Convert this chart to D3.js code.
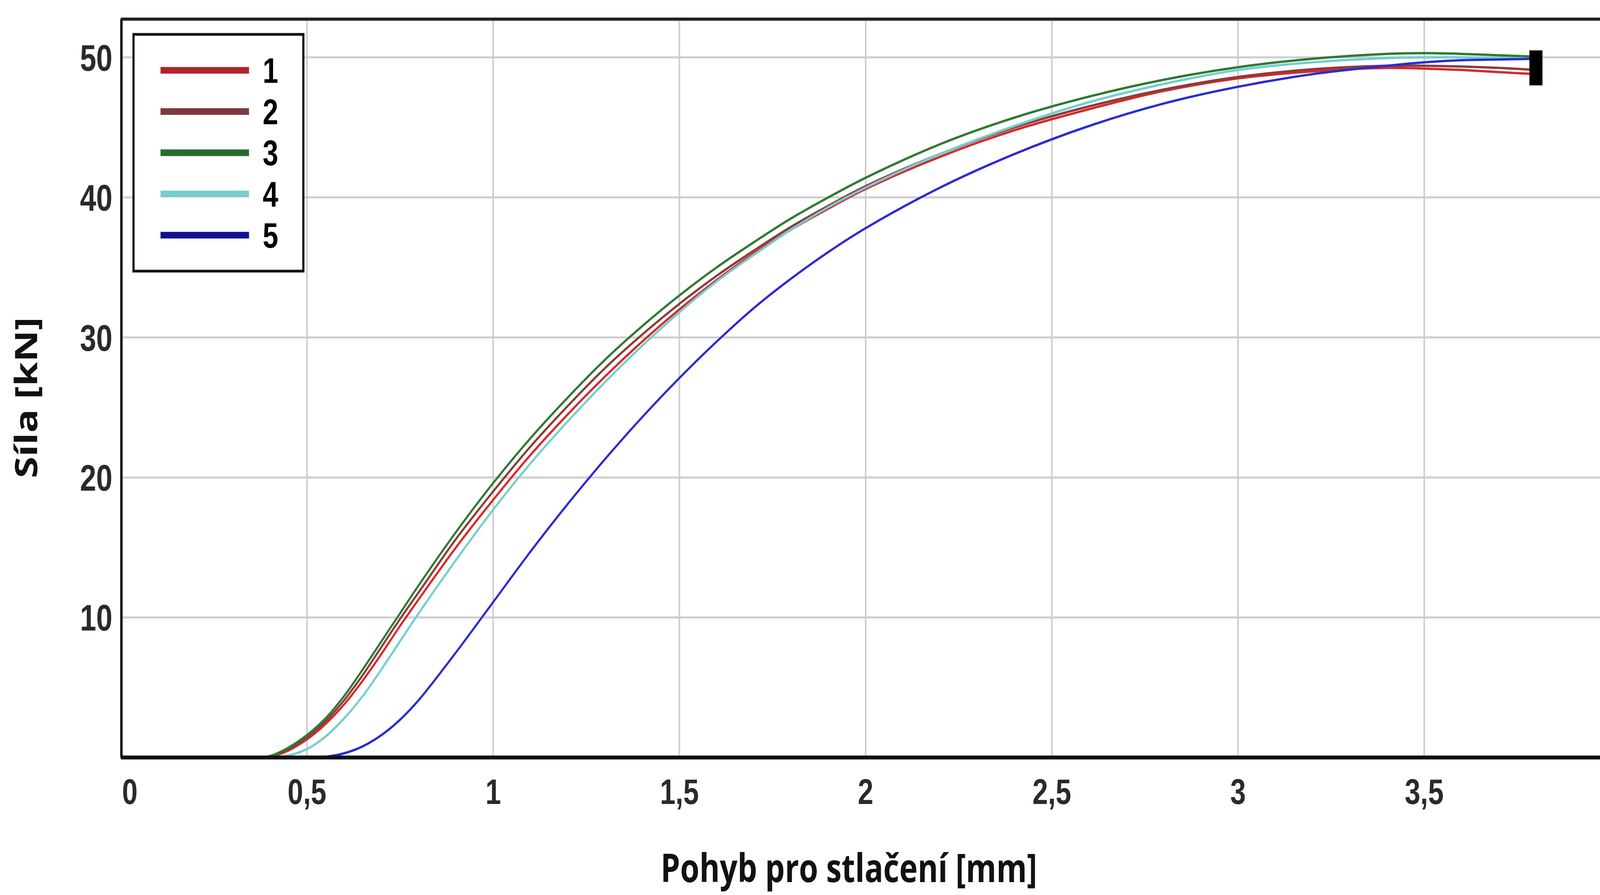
<!DOCTYPE html>
<html>
<head>
<meta charset="utf-8">
<script src="https://cdn.jsdelivr.net/npm/d3@7"></script>
<style>
  html, body { margin: 0; padding: 0; background: #fff; overflow: hidden; }
  svg { display: block; }
</style>
</head>
<body>
<svg id="chart"></svg>
<script>
// --- data ---
var xs = [0, 0.35, 0.4, 0.45, 0.5, 0.55, 0.6, 0.65, 0.7, 0.75, 0.8, 0.9, 1.0, 1.1, 1.2, 1.3, 1.4, 1.5,
          1.6, 1.7, 1.8, 1.9, 2.0, 2.2, 2.4, 2.6, 2.8, 3.0, 3.2, 3.4, 3.5, 3.6, 3.7, 3.8];

var s1 = [0, 0, 0.05, 0.5, 1.3, 2.4, 3.8, 5.5, 7.4, 9.4, 11.3, 15.0, 18.4, 21.6, 24.5, 27.2, 29.7, 32.0,
          34.1, 36.0, 37.7, 39.2, 40.6, 42.9, 44.8, 46.3, 47.6, 48.5, 49.0, 49.25, 49.2, 49.1, 48.95, 48.8];
var s2 = [0, 0, 0.08, 0.6, 1.45, 2.6, 4.1, 5.9, 7.9, 9.9, 11.8, 15.6, 19.0, 22.2, 25.1, 27.8, 30.2, 32.4,
          34.4, 36.2, 37.9, 39.4, 40.8, 43.1, 45.0, 46.5, 47.7, 48.6, 49.15, 49.4, 49.4, 49.35, 49.25, 49.1];
var s3 = [0, 0, 0.1, 0.7, 1.6, 2.8, 4.4, 6.3, 8.3, 10.3, 12.3, 16.1, 19.6, 22.8, 25.7, 28.4, 30.8, 33.0,
          35.0, 36.8, 38.5, 40.0, 41.4, 43.8, 45.7, 47.2, 48.4, 49.3, 49.9, 50.25, 50.3, 50.25, 50.15, 50.05];
var s4 = [0, 0, 0, 0.15, 0.6, 1.5, 2.8, 4.4, 6.3, 8.3, 10.3, 14.1, 17.7, 21.0, 24.0, 26.8, 29.4, 31.8,
          34.0, 35.9, 37.7, 39.3, 40.7, 43.1, 45.1, 46.8, 48.1, 49.1, 49.65, 49.95, 50.0, 50.0, 49.95, 49.9];
var s5 = [0, 0, 0, 0, 0, 0.05, 0.3, 0.8, 1.6, 2.7, 4.1, 7.5, 11.1, 14.7, 18.1, 21.3, 24.3, 27.1,
          29.7, 32.1, 34.2, 36.1, 37.8, 40.7, 43.1, 45.1, 46.7, 47.9, 48.8, 49.4, 49.65, 49.8, 49.85, 49.9];

var names = ["1", "2", "3", "4", "5"];
var colors = ["#d62a2a", "#8a3c3c", "#2e7a32", "#72cfcf", "#2b2bd2"];
var legendColors = ["#b0242a", "#7c3a3e", "#2a6a2e", "#7ccaca", "#10108f"];

var xTicks = [0, 0.5, 1, 1.5, 2, 2.5, 3, 3.5];
var yTicks = [10, 20, 30, 40, 50];
var endMarker = { x: 3.8, lo: 48.0, hi: 50.5 };

var xTitle = "Pohyb pro stlačení [mm]";
var yTitle = "Síla [kN]";

// --- layout (drawn in a 5153x2291 box, stretched to whatever the window is) ---
var W = 5153, H = 2291;
var m = { left: 389, right: W, top: 49, bottom: 1939 };

var svg = d3.select("#chart")
  .attr("width", window.innerWidth || W)
  .attr("height", window.innerHeight || H)
  .attr("viewBox", "0 0 " + W + " " + H)
  .attr("preserveAspectRatio", "none");
svg.append("rect").attr("width", W).attr("height", H).attr("fill", "#fff");

var x = d3.scaleLinear().domain([0, 3.972]).range([m.left, m.right]);
var y = d3.scaleLinear().domain([0, 52.73]).range([m.bottom, m.top]);

// grid
svg.append("g").selectAll("line").data(xTicks.filter(d => d > 0)).enter()
  .append("line")
  .attr("x1", d => x(d)).attr("x2", d => x(d))
  .attr("y1", m.top).attr("y2", m.bottom)
  .attr("stroke", "#cdcdcd").attr("stroke-width", 5);

svg.append("g").selectAll("line").data(yTicks).enter()
  .append("line")
  .attr("x1", m.left).attr("x2", m.right)
  .attr("y1", d => y(d)).attr("y2", d => y(d))
  .attr("stroke", "#cdcdcd").attr("stroke-width", 5);

// curves
var series = [s1, s2, s3, s4, s5];
var line = d3.line()
  .x((d, i) => x(xs[i]))
  .y(d => y(d))
  .curve(d3.curveCatmullRom.alpha(0.5));

svg.append("g").selectAll("path").data(series).enter()
  .append("path")
  .attr("d", d => line(d))
  .attr("fill", "none")
  .attr("stroke", (d, i) => colors[i])
  .attr("stroke-width", 6)
  .attr("stroke-linejoin", "round");

// end marker
svg.append("rect")
  .attr("x", x(endMarker.x) - 21)
  .attr("width", 42)
  .attr("y", y(endMarker.hi))
  .attr("height", y(endMarker.lo) - y(endMarker.hi))
  .attr("fill", "#000");

// frame: left, top, bottom
svg.append("line").attr("x1", m.left + 2).attr("x2", m.left + 2).attr("y1", m.top).attr("y2", m.bottom)
  .attr("stroke", "#111").attr("stroke-width", 8);
svg.append("line").attr("x1", m.left).attr("x2", m.right).attr("y1", m.top).attr("y2", m.top)
  .attr("stroke", "#222").attr("stroke-width", 8);
svg.append("line").attr("x1", m.left).attr("x2", m.right).attr("y1", m.bottom).attr("y2", m.bottom)
  .attr("stroke", "#111").attr("stroke-width", 10);

// tick labels
var tickFont = "'Liberation Sans', Arial, sans-serif";
svg.append("g").selectAll("text").data(yTicks).enter()
  .append("text")
  .attr("x", 362)
  .attr("y", d => y(d))
  .attr("dy", "0.36em")
  .attr("text-anchor", "end")
  .attr("font-family", tickFont)
  .attr("font-weight", "bold")
  .attr("font-size", 94)
  .attr("fill", "#2a2a2a")
  .text(d => d);

svg.append("g").selectAll("text").data(xTicks).enter()
  .append("text")
  .attr("x", d => d === 0 ? x(d) + 4 : x(d))
  .attr("y", 2058)
  .attr("text-anchor", d => d === 0 ? "start" : "middle")
  .attr("font-family", tickFont)
  .attr("font-weight", "bold")
  .attr("font-size", 90)
  .attr("fill", "#2a2a2a")
  .text(d => String(d).replace(".", ","));

// axis titles
svg.append("text")
  .attr("x", 2734).attr("y", 2258)
  .attr("text-anchor", "middle")
  .attr("font-family", "'Open Sans', 'Noto Sans', sans-serif")
  .attr("font-weight", "bold")
  .attr("font-size", 100)
  .attr("fill", "#111")
  .text(xTitle);

svg.append("text")
  .attr("transform", "translate(120,1018) rotate(-90)")
  .attr("text-anchor", "middle")
  .attr("font-family", "'Open Sans', 'Noto Sans', sans-serif")
  .attr("font-weight", "bold")
  .attr("font-size", 100)
  .attr("fill", "#111")
  .text(yTitle);

// legend
var lg = svg.append("g");
lg.append("rect")
  .attr("x", 430).attr("y", 88).attr("width", 547).attr("height", 606)
  .attr("fill", "#fff").attr("stroke", "#111").attr("stroke-width", 7);

var legendY = d3.scalePoint().domain(names).range([180, 602]);
var items = lg.selectAll("g.item").data(names).enter().append("g").attr("class", "item");
items.append("line")
  .attr("x1", 517).attr("x2", 802)
  .attr("y1", d => legendY(d)).attr("y2", d => legendY(d))
  .attr("stroke", (d, i) => legendColors[i])
  .attr("stroke-width", 17);
items.append("text")
  .attr("x", 846)
  .attr("y", d => legendY(d))
  .attr("dy", "0.36em")
  .attr("font-family", tickFont)
  .attr("font-weight", "bold")
  .attr("font-size", 90)
  .attr("fill", "#000")
  .text(d => d);
</script>
</body>
</html>
